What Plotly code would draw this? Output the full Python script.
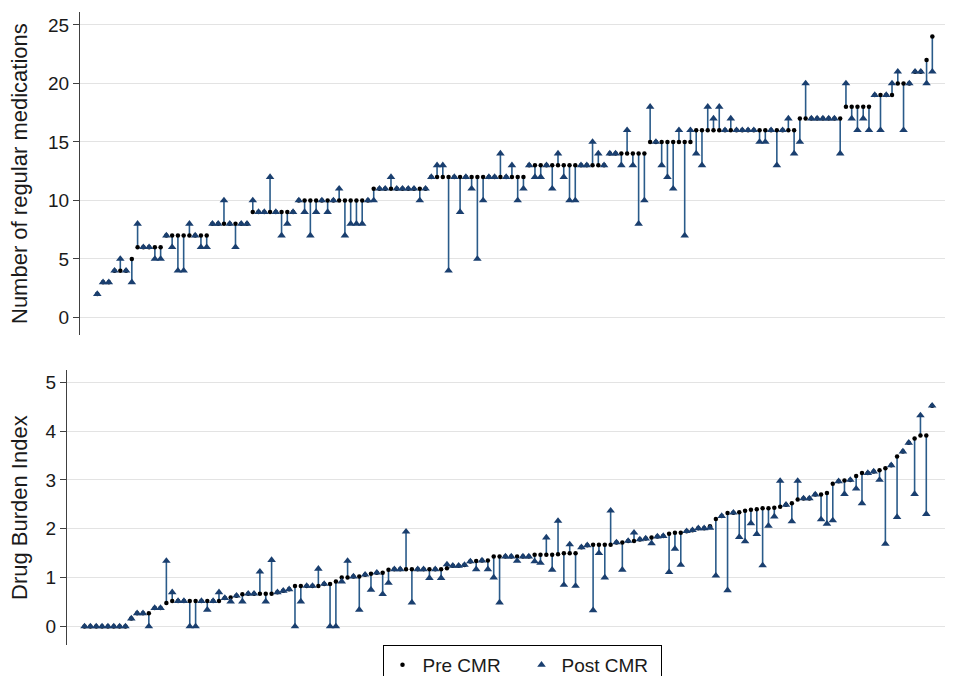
import plotly.graph_objects as go

# ---- Top panel: number of regular medications (sorted by pre-CMR) ----
med_pre = [2, 3, 3, 4, 4, 4, 5, 6, 6, 6, 6, 6, 7, 7, 7, 7, 7, 7, 7, 7,
           8, 8, 8, 8, 8, 8, 8, 9, 9, 9, 9, 9, 9, 9, 9, 10, 10, 10, 10, 10,
           10, 10, 10, 10, 10, 10, 10, 10, 11, 11, 11, 11, 11, 11, 11, 11, 11, 11, 12, 12,
           12, 12, 12, 12, 12, 12, 12, 12, 12, 12, 12, 12, 12, 12, 12, 13, 13, 13, 13, 13,
           13, 13, 13, 13, 13, 13, 13, 13, 13, 14, 14, 14, 14, 14, 14, 14, 15, 15, 15, 15,
           15, 15, 15, 15, 16, 16, 16, 16, 16, 16, 16, 16, 16, 16, 16, 16, 16, 16, 16, 16,
           16, 16, 17, 17, 17, 17, 17, 17, 17, 17, 18, 18, 18, 18, 18, 19, 19, 19, 19, 20,
           20, 20, 21, 21, 22, 24]
med_post = [2, 3, 3, 4, 5, 4, 3, 8, 6, 6, 5, 5, 7, 6, 4, 4, 8, 7, 6, 6,
            8, 8, 10, 8, 6, 8, 8, 10, 9, 9, 12, 9, 7, 8, 9, 10, 9, 7, 9, 10,
            9, 10, 11, 7, 8, 8, 8, 10, 10, 11, 11, 12, 11, 11, 11, 11, 10, 11, 12, 13,
            13, 4, 12, 9, 12, 11, 5, 10, 12, 12, 14, 12, 13, 10, 11, 13, 12, 12, 13, 11,
            14, 12, 10, 10, 13, 13, 15, 14, 13, 14, 14, 13, 16, 13, 8, 10, 18, 15, 13, 12,
            11, 16, 7, 16, 14, 13, 18, 17, 18, 16, 17, 16, 16, 16, 16, 15, 15, 16, 13, 16,
            17, 14, 15, 20, 17, 17, 17, 17, 17, 14, 20, 17, 16, 17, 16, 19, 16, 19, 20, 21,
            16, 20, 21, 21, 20, 21]

# ---- Bottom panel: Drug Burden Index (sorted by pre-CMR) ----
dbi_pre = [0, 0, 0, 0, 0, 0, 0, 0, 0.16, 0.27, 0.27, 0.27, 0.375, 0.375, 0.48, 0.52, 0.52, 0.52, 0.52, 0.52,
           0.52, 0.52, 0.52, 0.52, 0.58, 0.59, 0.63, 0.66, 0.67, 0.67, 0.67, 0.67, 0.67, 0.70, 0.73, 0.76, 0.83, 0.83, 0.83, 0.83,
           0.83, 0.87, 0.87, 0.92, 1.00, 1.00, 1.02, 1.02, 1.06, 1.08, 1.10, 1.10, 1.16, 1.17, 1.17, 1.17, 1.17, 1.17, 1.17, 1.17,
           1.17, 1.17, 1.19, 1.24, 1.24, 1.26, 1.33, 1.34, 1.35, 1.35, 1.43, 1.43, 1.43, 1.43, 1.43, 1.43, 1.43, 1.47, 1.47, 1.47,
           1.47, 1.48, 1.50, 1.50, 1.50, 1.62, 1.66, 1.67, 1.67, 1.67, 1.67, 1.72, 1.72, 1.75, 1.75, 1.78, 1.80, 1.82, 1.84, 1.85,
           1.90, 1.92, 1.92, 1.95, 1.97, 2.01, 2.01, 2.05, 2.20, 2.26, 2.32, 2.33, 2.34, 2.37, 2.39, 2.40, 2.42, 2.42, 2.43, 2.45,
           2.49, 2.52, 2.60, 2.62, 2.62, 2.70, 2.70, 2.73, 2.92, 2.97, 2.99, 3.00, 3.08, 3.14, 3.14, 3.17, 3.20, 3.24, 3.30, 3.48,
           3.58, 3.76, 3.85, 3.91, 3.91, 4.52]
dbi_post = [0, 0, 0, 0, 0, 0, 0, 0, 0.16, 0.27, 0.27, 0, 0.375, 0.375, 1.34, 0.70, 0.52, 0.52, 0, 0,
            0.52, 0.34, 0.52, 0.70, 0.58, 0.51, 0.63, 0.51, 0.67, 0.67, 1.12, 0.51, 1.36, 0.70, 0.73, 0.76, 0, 0.51, 0.83, 0.83,
            1.18, 0.87, 0, 0, 0.92, 1.34, 1.02, 0.34, 1.06, 0.75, 1.10, 0.66, 0.89, 1.17, 1.17, 1.94, 0.49, 1.17, 1.17, 0.99,
            1.17, 0.99, 1.27, 1.24, 1.24, 1.26, 1.33, 1.17, 1.35, 1.17, 1.00, 0.49, 1.43, 1.43, 1.34, 1.43, 1.43, 1.33, 1.30, 1.82,
            1.16, 2.16, 0.85, 1.68, 0.83, 1.62, 1.66, 0.33, 1.50, 1.00, 2.37, 1.72, 1.16, 1.75, 1.92, 1.78, 1.80, 1.70, 1.84, 1.85,
            1.11, 1.59, 1.26, 1.95, 1.97, 2.01, 2.01, 2.02, 1.04, 2.26, 0.74, 2.33, 1.83, 1.74, 2.11, 1.89, 1.25, 2.06, 2.25, 2.98,
            2.49, 2.15, 2.98, 2.62, 2.62, 2.70, 2.19, 2.10, 2.17, 2.97, 2.71, 3.00, 2.82, 2.52, 3.14, 3.17, 3.00, 1.69, 3.30, 2.24,
            3.58, 3.76, 2.71, 4.32, 2.30, 4.52]

top_ticks = [0, 5, 10, 15, 20, 25]
bottom_ticks = [0, 1, 2, 3, 4, 5]

LINE_COL = "#2a5b8a"
TRI_COL = "#1a3f6f"
# the page body adds an 8px margin, so the figure is laid out in shifted coordinates
OFF = 8
W, H = 957 - OFF, 676 - OFF


def px(xr):
    return (xr - OFF) / W


def py(yr):
    return (H - (yr - OFF)) / H


fig = go.Figure()


def add_panel(pre, post, xa, ya, show_legend):
    xs = list(range(1, len(pre) + 1))
    lx, ly = [], []
    for x, a, b in zip(xs, pre, post):
        lx += [x, x, None]
        ly += [a, b, None]
    fig.add_trace(go.Scatter(x=lx, y=ly, mode="lines", xaxis=xa, yaxis=ya,
                             line=dict(color=LINE_COL, width=1.6),
                             showlegend=False, hoverinfo="skip"))
    fig.add_trace(go.Scatter(x=xs, y=pre, mode="markers", xaxis=xa, yaxis=ya,
                             name="Pre CMR", legendgroup="pre", showlegend=show_legend,
                             marker=dict(symbol="circle", size=4.5, color="black")))
    fig.add_trace(go.Scatter(x=xs, y=post, mode="markers", xaxis=xa, yaxis=ya,
                             name="Post CMR", legendgroup="post", showlegend=show_legend,
                             marker=dict(symbol="triangle-up", size=7.5, color=TRI_COL)))


add_panel(med_pre, med_post, "x", "y", True)
add_panel(dbi_pre, dbi_post, "x2", "y2", False)

FONT = "Liberation Sans, Arial, sans-serif"
yaxis_common = dict(showline=True, linecolor="#404040", linewidth=1,
                    ticks="outside", ticklen=6, tickcolor="#404040",
                    showgrid=True, gridcolor="#e3e3e3", gridwidth=1.2,
                    zeroline=False, automargin=False,
                    tickfont=dict(size=19, color="#1a1a1a"))
xaxis_common = dict(showline=False, showgrid=False, zeroline=False, automargin=False,
                    showticklabels=False, ticks="", range=[-2.0, 148.2])

fig.update_layout(
    template="none",
    width=W, height=H,
    margin=dict(l=0, r=0, t=0, b=0, autoexpand=False),
    paper_bgcolor="white", plot_bgcolor="white",
    font=dict(family=FONT, color="#1a1a1a"),
    xaxis=dict(domain=[px(80), px(945)], anchor="y", **xaxis_common),
    yaxis=dict(domain=[py(335), py(12)], anchor="x",
               range=[-1.5, 26.1], tickvals=top_ticks, **yaxis_common),
    xaxis2=dict(domain=[px(67), px(945)], anchor="y2", **xaxis_common),
    yaxis2=dict(domain=[py(645), py(370)], anchor="x2",
                range=[-0.38, 5.25], tickvals=bottom_ticks, **yaxis_common),
    legend=dict(orientation="h", x=px(522), xanchor="center", y=py(645), yanchor="top",
                bordercolor="black", borderwidth=1, bgcolor="white",
                font=dict(size=19, color="#1a1a1a"), itemwidth=30,
                entrywidth=94, tracegroupgap=0),
    annotations=[
        dict(text="Number of regular medications", textangle=-90, xref="paper", yref="paper",
             x=px(19), y=py(174), showarrow=False, font=dict(size=22, color="#1a1a1a"),
             xanchor="center", yanchor="middle"),
        dict(text="Drug Burden Index", textangle=-90, xref="paper", yref="paper",
             x=px(19), y=py(508), showarrow=False, font=dict(size=22, color="#1a1a1a"),
             xanchor="center", yanchor="middle"),
    ],
)

fig.write_html("out.html")
